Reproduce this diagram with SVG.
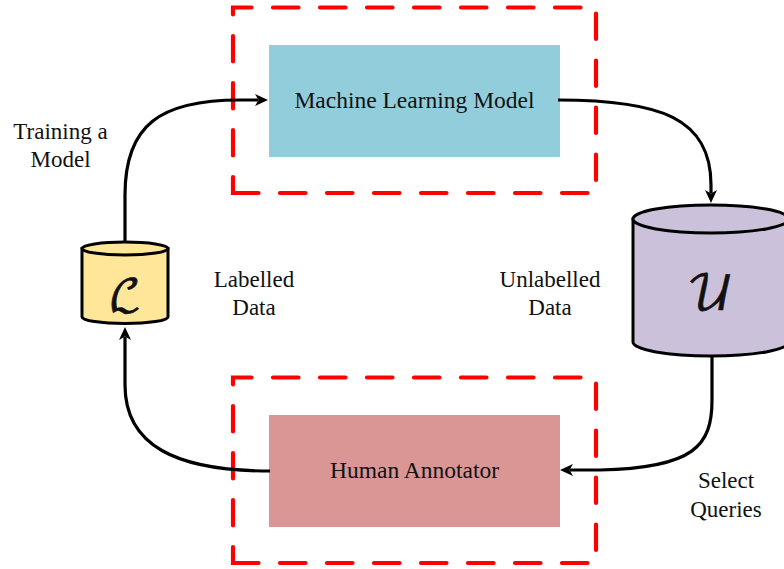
<svg xmlns="http://www.w3.org/2000/svg" width="784" height="569" viewBox="0 0 784 569">
  <defs>
    <style>
      .frame { fill: none; stroke: #FF0000; stroke-width: 4.2; stroke-dasharray: 25.5 21.5; stroke-linecap: round; }
      .label { font-family: "Liberation Serif", "Times New Roman", serif; font-size: 23px; fill: #111; text-anchor: middle; }
      .box-text { font-family: "Liberation Serif", "Times New Roman", serif; font-size: 23.5px; fill: #111; text-anchor: middle; }
      .edge { fill: none; stroke: #000; stroke-width: 3.2; }
      .can { stroke: #000; stroke-width: 3; }
      .sym { font-family: "DejaVu Math TeX Gyre", "DejaVu Serif", "DejaVu Sans", serif; fill: #111; text-anchor: middle; stroke: #111; stroke-width: 0.6; }
    </style>
    <marker id="arrow" markerUnits="userSpaceOnUse" viewBox="0 0 13 12" refX="3" refY="6" markerWidth="13" markerHeight="12" orient="auto">
      <path d="M0,0 L13,6 L0,12 L3.5,6 z" fill="#000"/>
    </marker>
  </defs>

  <rect width="784" height="569" fill="#fff"/>

  <!-- dashed grouping frames -->
  <path class="frame" d="M233,193 H596 V7.5 H233 Z"/>
  <path class="frame" d="M233,563 H596 V377.5 H233 Z"/>

  <g id="ml-model">
    <rect x="269" y="45" width="291" height="112" fill="#92CDDC"/>
    <text class="box-text" x="414.5" y="108">Machine Learning Model</text>
  </g>

  <g id="human-annotator">
    <rect x="269" y="415" width="291" height="112" fill="#D99694"/>
    <text class="box-text" x="414.5" y="478">Human Annotator</text>
  </g>

  <g id="labelled-store">
    <path class="can" fill="#FFE699" d="M82,248.5 V317 A43,6.5 0 0 0 168,317 V248.5 Z"/>
    <ellipse class="can" fill="#FFE699" cx="125" cy="248.5" rx="43" ry="6.5"/>
    <text class="sym" x="125" y="311" font-size="44">ℒ</text>
  </g>

  <g id="unlabelled-store">
    <path class="can" fill="#CCC1DA" d="M633,219 V342 A78,14 0 0 0 789,342 V219 Z"/>
    <ellipse class="can" fill="#CCC1DA" cx="711" cy="219" rx="78" ry="14"/>
    <text class="sym" x="710" y="310" font-size="48">𝒰</text>
  </g>

  <g id="connectors">
    <path class="edge" marker-end="url(#arrow)" d="M125,241 V195 C125,125 160,100 240,100 H258"/>
    <path class="edge" marker-end="url(#arrow)" d="M558,100 C660,100 711,118 711,185 V193"/>
    <path class="edge" marker-end="url(#arrow)" d="M712,356 V400 C712,445 695,468 600,470 H570"/>
    <path class="edge" marker-end="url(#arrow)" d="M270,471 C175,471 125,445 125,385 V337"/>
  </g>

  <g id="labels">
    <text class="label" x="60.5" y="139">Training a</text>
    <text class="label" x="60.5" y="167">Model</text>
    <text class="label" x="254" y="287">Labelled</text>
    <text class="label" x="254" y="315">Data</text>
    <text class="label" x="550" y="287">Unlabelled</text>
    <text class="label" x="550" y="315">Data</text>
    <text class="label" x="726" y="488">Select</text>
    <text class="label" x="726" y="517">Queries</text>
  </g>
</svg>
